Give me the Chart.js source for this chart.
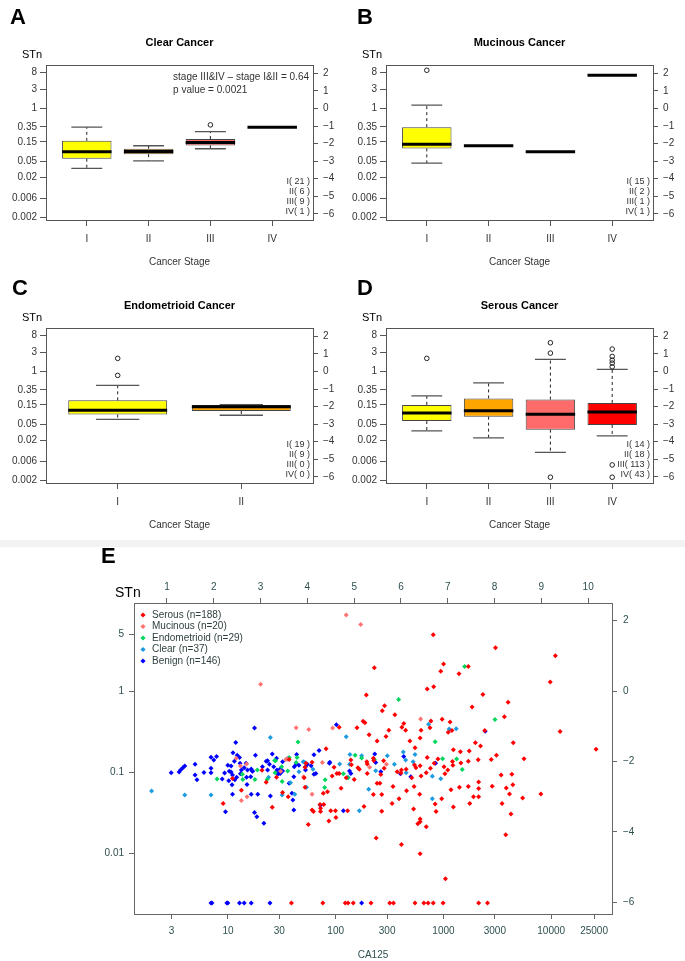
<!DOCTYPE html>
<html>
<head>
<meta charset="utf-8">
<script src="https://cdn.jsdelivr.net/npm/chart.js@4.4.1/dist/chart.umd.min.js"></script>
<style>
body { margin: 0; background: #fff; width: 685px; height: 961px; position: relative; overflow: hidden; }
.pane { position: absolute; }
#band { position: absolute; left: 0; top: 540px; width: 685px; height: 7px; background: #f2f2f2; }
</style>
</head>
<body>
<div class="pane" style="left:0;top:0"><canvas id="pA" width="340" height="270"></canvas></div>
<div class="pane" style="left:340px;top:0"><canvas id="pB" width="345" height="270"></canvas></div>
<div class="pane" style="left:0;top:263px"><canvas id="pC" width="340" height="270"></canvas></div>
<div class="pane" style="left:340px;top:263px"><canvas id="pD" width="345" height="270"></canvas></div>
<div id="band"></div>
<div class="pane" style="left:0;top:545px"><canvas id="pE" width="685" height="416"></canvas></div>
<script>
var FONT = '"Liberation Sans", Arial, Helvetica, sans-serif';

var stageNames = ['I', 'II', 'III', 'IV'];
var stageFills = ['#FFFF00', '#FFA500', '#FF6A6A', '#FF0000'];
var stnTickValues = [0.002, 0.006, 0.02, 0.05, 0.15, 0.35, 1, 3, 8];
var lnTickValues = [-6, -5, -4, -3, -2, -1, 0, 1, 2];

// box statistics in ln(STn), as read on the right hand axes
var clearLow  = [-3.41, -2.98, -2.29, -1.06];
var clearQ1   = [-2.86, -2.60, -2.10, -1.06];
var clearMed  = [-2.46, -2.45, -1.93, -1.06];
var clearQ3   = [-1.84, -2.29, -1.74, -1.06];
var clearHigh = [-1.06, -2.12, -1.31, -1.06];
var clearOut  = [[], [], [-0.93], []];
var clearN    = [21, 6, 9, 1];

var mucLow  = [-3.11, -2.12, -2.46, 1.90];
var mucQ1   = [-2.27, -2.12, -2.46, 1.90];
var mucMed  = [-2.03, -2.12, -2.46, 1.90];
var mucQ3   = [-1.06, -2.12, -2.46, 1.90];
var mucHigh = [0.19, -2.12, -2.46, 1.90];
var mucOut  = [[2.18], [], [], []];
var mucN    = [15, 2, 1, 1];

var endoLow  = [-2.72, -2.49];
var endoQ1   = [-2.45, -2.25];
var endoMed  = [-2.21, -2.00];
var endoQ3   = [-1.64, -1.90];
var endoHigh = [-0.79, -1.88];
var endoOut  = [[0.75, -0.22], []];
var endoN    = [19, 9, 0, 0];

var serLow  = [-3.38, -3.78, -4.60, -3.67];
var serQ1   = [-2.82, -2.57, -3.31, -3.04];
var serMed  = [-2.36, -2.23, -2.44, -2.30];
var serQ3   = [-1.90, -1.53, -1.60, -1.79];
var serHigh = [-1.39, -0.65, 0.69, 0.12];
var serOut  = [[0.75], [], [1.64, 1.05, -6.02], [1.28, 0.86, 0.65, 0.48, 0.27, -5.32, -6.02]];
var serN    = [14, 18, 113, 43];

// scatter: [ln CA125 (top axis), ln STn (right axis)]
var serousPts = [
  [5.43,0.66],[5.26,-0.11],[5.65,-0.42],[5.60,-0.56],[5.87,-0.67],[6.02,-1.03],[5.19,-0.86],[5.23,-0.90],
  [5.74,-1.11],[5.06,-1.04],[4.68,-1.03],[5.32,-1.24],[5.68,-1.29],[5.49,-1.42],[4.40,-1.64],
  [6.69,1.60],[8.02,1.23],[9.30,1.00],[6.91,0.77],[7.44,0.70],[6.85,0.56],[7.24,0.49],[9.19,0.26],
  [6.70,0.12],[6.56,0.06],[7.75,-0.10],[8.29,-0.32],[7.52,-0.45],[8.21,-0.73],[6.88,-0.80],[7.05,-0.88],
  [6.64,-0.85],[6.06,-0.92],[6.10,-1.11],[6.62,-1.04],[6.43,-1.11],[7.01,-1.17],[7.09,-1.12],[7.79,-1.12],
  [9.40,-1.15],[6.41,-1.33],[6.19,-1.42],[7.59,-1.47],[7.70,-1.56],[8.40,-1.47],[6.30,-1.61],[10.17,-1.65],
  [7.12,-1.67],[7.27,-1.72],[7.46,-1.70],[6.56,-1.89],[8.04,-1.82],[8.63,-1.92],[6.79,-1.93],[7.65,-1.95],
  [7.93,-1.94],[7.10,-2.00],[7.28,-2.04],[7.44,-1.99],[6.92,-2.15],[7.00,-2.24],[6.63,-2.19],[6.54,-2.32],
  [6.41,-2.12],[6.32,-2.18],[6.29,-2.10],[6.11,-2.22],[6.01,-2.24],[5.92,-2.29],[5.63,-1.98],[5.41,-1.91],
  [5.08,-2.18],[5.11,-2.22],[5.27,-2.01],[5.42,-1.97],[4.10,-2.02],[3.97,-2.05],[3.95,-2.16],[3.61,-1.94],
  [5.64,-2.19],[5.57,-2.37],[6.00,-2.33],[6.23,-2.46],[6.43,-2.41],[6.71,-2.05],[6.94,-2.35],[7.11,-2.11],
  [5.49,-2.62],[5.55,-2.62],[5.83,-2.71],[5.41,-2.94],[5.59,-2.94],[6.12,-2.83],[6.28,-2.71],[6.40,-2.93],
  [5.96,-3.06],[5.81,-3.19],[5.59,-3.41],[6.73,-3.21],[6.75,-3.42],[6.87,-3.06],[6.27,-3.35],[7.07,-2.80],
  [7.25,-2.73],[7.44,-2.71],[7.66,-2.58],[7.66,-2.77],[7.66,-3.00],[7.55,-3.00],[7.47,-3.19],[7.12,-3.29],
  [7.95,-2.70],[8.14,-2.38],[8.37,-2.36],[8.25,-2.75],[8.39,-2.66],[8.32,-2.92],[8.60,-3.04],[8.99,-2.92],
  [8.16,-3.19],[8.35,-3.49],[6.41,-3.63],[6.41,-3.71],[6.36,-3.77],[6.54,-3.85],[8.24,-4.08],[5.47,-4.17],
  [6.01,-4.36],[6.41,-4.62],[6.95,-5.33],
  [3.66,-6.02],[4.33,-6.02],[4.81,-6.02],[4.87,-6.02],[4.98,-6.02],[5.36,-6.02],[5.76,-6.02],[5.84,-6.02],
  [6.30,-6.02],[6.49,-6.02],[6.58,-6.02],[6.69,-6.02],[6.90,-6.02],[7.66,-6.02],[7.85,-6.02],
  [2.20,-3.19],[2.40,-2.48],[2.59,-2.82],[3.03,-2.25],[3.12,-2.59],[3.25,-3.30],[3.34,-2.45],[3.47,-2.88],
  [3.59,-3.00],[3.93,-2.46],[3.95,-2.73],[4.02,-3.79],[4.10,-3.38],[4.13,-3.42],[4.27,-3.22],[4.28,-3.33],
  [4.28,-3.42],[4.35,-3.22],[4.34,-2.90],[4.43,-2.86],[4.46,-3.69],[4.50,-3.40],[4.53,-2.41],[4.57,-2.16],
  [4.60,-3.40],[4.61,-3.59],[4.72,-2.76],[4.63,-2.34],[4.68,-2.34],[4.86,-3.40],[4.83,-2.46],[4.93,-1.96],
  [4.94,-2.09],[5.00,-2.51],[5.21,-3.28],[5.28,-2.34],[5.28,-2.07]
];
var mucinousPts = [
  [4.83,2.16],[5.14,1.89],[3.00,0.19],[4.54,-1.05],[3.76,-1.04],[4.03,-1.09],[6.42,-0.79],[2.48,-1.91],
  [2.57,-2.13],[2.70,-2.07],[3.57,-1.93],[4.32,-2.03],[5.33,-2.16],[5.69,-2.08],[2.59,-3.11],[2.71,-3.00],
  [3.54,-1.94],[3.92,-2.43],[4.10,-2.93],[3.43,-2.28]
];
var endoPts = [
  [5.95,-0.24],[7.36,0.70],[8.01,-0.81],[6.73,-1.44],[6.89,-1.92],[7.19,-1.93],[7.31,-2.23],[3.80,-1.45],
  [5.02,-1.82],[5.16,-1.90],[3.30,-1.97],[3.78,-1.89],[5.43,-1.94],[2.07,-2.50],[2.61,-2.36],[2.62,-2.51],
  [2.88,-2.51],[3.14,-2.51],[3.32,-1.98],[3.31,-2.32],[3.45,-2.15],[3.46,-2.57],[3.58,-2.27],[3.61,-1.89],
  [3.76,-2.03],[4.37,-2.74],[4.77,-2.35],[4.87,-2.46],[2.93,-2.24],[4.38,-2.52]
];
var clearPts = [
  [3.21,-1.32],[4.83,-1.30],[4.91,-1.80],[5.16,-1.84],[5.71,-1.84],[6.05,-1.73],[6.30,-1.80],[6.59,-0.94],
  [7.03,-1.08],[7.18,-1.07],[3.91,-2.01],[4.69,-2.07],[6.26,-2.01],[5.86,-2.08],[6.10,-1.96],[5.46,-2.26],
  [6.11,-2.32],[6.67,-2.42],[6.85,-2.49],[6.67,-3.06],[0.67,-2.84],[1.38,-2.95],[1.94,-2.95],[3.46,-2.95],
  [3.64,-2.60],[3.73,-2.93],[3.82,-2.29],[3.94,-2.02],[3.98,-2.73],[4.12,-2.22],[4.87,-2.45],[4.90,-2.08],
  [5.11,-3.40],[5.31,-2.79],[3.17,-2.45]
];
var benignPts = [
  [2.87,-1.05],[4.62,-0.96],[2.47,-1.46],[4.25,-1.69],[4.14,-1.81],[2.41,-1.75],[2.50,-1.82],[2.55,-1.89],
  [1.94,-1.88],[2.06,-1.86],[2.89,-1.82],[3.25,-1.79],[3.77,-1.80],[5.44,-1.79],[3.15,-1.98],[3.19,-2.08],
  [3.34,-1.91],[3.47,-2.01],[3.57,-1.92],[4.48,-2.02],[2.00,-1.96],[1.60,-2.08],[5.46,-2.03],[5.57,-2.29],
  [6.06,-1.86],[5.99,-2.35],[6.21,-2.43],[6.74,-2.05],[7.80,-1.14],
  [1.09,-2.32],[1.26,-2.30],[1.29,-2.24],[1.34,-2.18],[1.38,-2.13],[1.60,-2.38],[1.64,-2.52],[1.79,-2.31],
  [1.94,-2.19],[1.94,-2.32],[2.18,-2.50],[2.23,-2.33],[2.30,-2.11],[2.33,-2.28],[2.25,-3.43],[2.32,-2.55],
  [2.37,-2.30],[2.40,-2.38],[2.37,-2.13],[2.44,-1.99],[2.45,-2.52],[2.40,-2.93],[2.56,-2.05],[2.59,-2.24],
  [2.65,-2.18],[2.69,-2.05],[2.71,-2.65],[2.72,-2.24],[2.80,-2.21],[2.82,-2.27],[2.87,-3.45],[2.92,-3.57],
  [2.80,-2.93],[2.94,-2.93],[3.07,-3.75],[3.04,-2.15],[3.12,-1.99],[3.15,-2.24],[3.28,-2.15],[3.21,-2.98],
  [3.35,-2.24],[3.39,-2.34],[3.42,-2.34],[3.47,-2.27],[3.61,-2.62],[3.67,-2.90],[3.71,-2.43],[3.72,-2.15],
  [3.76,-2.08],[3.82,-2.11],[3.71,-3.38],[3.96,-2.15],[3.96,-2.24],[4.00,-2.08],[4.08,-2.12],[4.14,-2.36],
  [4.18,-2.34],[4.28,-3.24],[4.47,-2.05],[4.77,-3.40],[2.39,-2.66],[2.49,-2.45],[2.57,-2.35],[2.70,-2.45],
  [2.79,-2.43],[2.83,-2.28],[3.42,-2.21],[3.37,-2.35],[3.69,-3.09],[4.90,-2.27],[4.93,-2.34],
  [1.94,-6.02],[1.96,-6.02],[2.28,-6.02],[2.30,-6.02],[2.55,-6.02],[2.65,-6.02],[2.80,-6.02],[3.20,-6.02],
  [5.16,-6.02]
];
var groupNames = ['Serous (n=188)', 'Mucinous (n=20)', 'Endometrioid (n=29)', 'Clear (n=37)', 'Benign (n=146)'];
var groupColors = ['#FF0000', '#FF7373', '#00D65B', '#1C9BE0', '#0000FF'];
var caTickValues = [3, 10, 30, 100, 300, 1000, 3000, 10000, 25000];
var lnCaTicks = [1, 2, 3, 4, 5, 6, 7, 8, 9, 10];
var stnTicksE = [0.01, 0.1, 1, 5];
var lnStnTicksE = [-6, -4, -2, 0, 2];

Chart.defaults.font.family = FONT;
Chart.defaults.font.size = 10;
Chart.defaults.color = '#333';
Chart.defaults.animation = false;
Chart.defaults.plugins.legend.display = false;
Chart.defaults.plugins.tooltip.enabled = false;

function minusFmt(v) {
  return v < 0 ? '\u2212' + Math.abs(v) : String(v);
}

function boxChart(id, st, opt) {
  var k = st.med.length;
  var boxes = [], whisk = [], caps = [], meds = [], outs = [];
  for (var i = 0; i < k; i++) {
    var x = i + 1;
    boxes.push({x: x, y: [st.q1[i], st.q3[i]]});
    meds.push({x: x - 0.4, y: st.med[i]}, {x: x + 0.4, y: st.med[i]}, {x: x, y: null});
    if (st.high[i] > st.q3[i]) {
      whisk.push({x: x, y: st.q3[i]}, {x: x, y: st.high[i]}, {x: x, y: null});
      caps.push({x: x - opt.cap, y: st.high[i]}, {x: x + opt.cap, y: st.high[i]}, {x: x, y: null});
    }
    if (st.low[i] < st.q1[i]) {
      whisk.push({x: x, y: st.q1[i]}, {x: x, y: st.low[i]}, {x: x, y: null});
      caps.push({x: x - opt.cap, y: st.low[i]}, {x: x + opt.cap, y: st.low[i]}, {x: x, y: null});
    }
    st.out[i].forEach(function (v) { outs.push({x: x, y: v}); });
  }
  var names = stageNames.slice(0, k);

  var decor = {
    id: 'decor',
    afterDraw: function (chart) {
      var ctx = chart.ctx, a = chart.chartArea;
      ctx.save();
      ctx.strokeStyle = '#555';
      ctx.lineWidth = 1;
      ctx.strokeRect(a.left + 0.5, a.top + 0.5, a.right - a.left, a.bottom - a.top);
      ctx.fillStyle = '#000';
      ctx.textBaseline = 'alphabetic';
      ctx.font = 'bold 22px ' + FONT;
      ctx.textAlign = 'left';
      ctx.fillText(opt.letter, opt.letterX, opt.letterY);
      ctx.font = 'bold 11px ' + FONT;
      ctx.textAlign = 'center';
      ctx.fillText(opt.title, (a.left + a.right) / 2, 46);
      ctx.font = '11px ' + FONT;
      ctx.textAlign = 'left';
      ctx.fillText('STn', 22, 58);
      ctx.fillStyle = '#333';
      ctx.font = '9px ' + FONT;
      ctx.textAlign = 'right';
      stageNames.forEach(function (s, j) {
        ctx.fillText(s + '( ' + st.n[j] + ' )', a.right - 3, a.bottom - 36 + j * 10);
      });
      if (opt.notes) {
        ctx.font = '10px ' + FONT;
        ctx.textAlign = 'left';
        var w = ctx.measureText(opt.notes[0]).width;
        var nx = a.right - 4 - w;
        ctx.fillText(opt.notes[0], nx, 80);
        ctx.fillText(opt.notes[1], nx, 93);
      }
      ctx.restore();
    }
  };

  var yMin = -6.35, yMax = 2.48;
  new Chart(document.getElementById(id), {
    type: 'bar',
    data: {
      datasets: [
        {type: 'bar', data: boxes, backgroundColor: stageFills.slice(0, k), borderColor: '#444',
         borderWidth: 1, borderSkipped: false, barPercentage: 0.8, categoryPercentage: 1, order: 5},
        {type: 'line', data: whisk, borderColor: '#222', borderWidth: 1, borderDash: [3, 3],
         pointRadius: 0, fill: false, spanGaps: false, order: 4},
        {type: 'line', data: caps, borderColor: '#555', borderWidth: 1.3, pointRadius: 0,
         fill: false, spanGaps: false, order: 3},
        {type: 'line', data: meds, borderColor: '#000', borderWidth: 3, borderCapStyle: 'butt',
         pointRadius: 0, fill: false, spanGaps: false, order: 2},
        {type: 'scatter', data: outs, pointStyle: 'circle', pointRadius: 2.3, borderWidth: 1,
         borderColor: '#222', backgroundColor: 'rgba(255,255,255,0)', order: 1}
      ]
    },
    options: {
      responsive: false,
      devicePixelRatio: 1,
      layout: {padding: {top: 65, left: 0, right: 0, bottom: 0}},
      scales: {
        x: {
          type: 'linear', position: 'bottom', offset: false, bounds: 'data',
          min: 0.5 - 0.04 * k, max: k + 0.5 + 0.04 * k,
          grid: {drawOnChartArea: false, tickLength: 6, color: '#555', offset: false},
          border: {display: false},
          ticks: {autoSkip: false, maxRotation: 0, padding: 7, color: '#333',
                  callback: function (v, i) { return names[i]; }},
          afterBuildTicks: function (s) { s.ticks = names.map(function (n, i) { return {value: i + 1}; }); },
          afterFit: function (s) { s.height = 50; },
          title: {display: true, text: 'Cancer Stage', color: '#333', font: {size: 10},
                  padding: {top: 0, bottom: 2}}
        },
        y: {
          type: 'linear', position: 'left', min: yMin, max: yMax, bounds: 'data',
          grid: {drawOnChartArea: false, tickLength: 6, color: '#555'},
          border: {display: false},
          ticks: {autoSkip: false, padding: 3, color: '#333',
                  callback: function (v, i) { return String(stnTickValues[i]); }},
          afterBuildTicks: function (s) { s.ticks = stnTickValues.map(function (v) { return {value: Math.log(v)}; }); },
          afterFit: function (s) { s.width = 46; }
        },
        y2: {
          type: 'linear', position: 'right', min: yMin, max: yMax, bounds: 'data',
          grid: {drawOnChartArea: false, tickLength: 5, color: '#555'},
          border: {display: false},
          ticks: {autoSkip: false, padding: 5, color: '#333',
                  callback: function (v) { return minusFmt(v); }},
          afterBuildTicks: function (s) { s.ticks = lnTickValues.map(function (v) { return {value: v}; }); },
          afterFit: function (s) { s.width = opt.rightW; }
        }
      }
    },
    plugins: [decor]
  });
}

boxChart('pA', {low: clearLow, q1: clearQ1, med: clearMed, q3: clearQ3, high: clearHigh, out: clearOut, n: clearN},
  {letter: 'A', letterX: 10, letterY: 24, title: 'Clear Cancer', rightW: 27, cap: 0.25,
   notes: ['stage III&IV \u2013 stage I&II = 0.64', 'p value = 0.0021']});
boxChart('pB', {low: mucLow, q1: mucQ1, med: mucMed, q3: mucQ3, high: mucHigh, out: mucOut, n: mucN},
  {letter: 'B', letterX: 17, letterY: 24, title: 'Mucinous Cancer', rightW: 32, cap: 0.25});
boxChart('pC', {low: endoLow, q1: endoQ1, med: endoMed, q3: endoQ3, high: endoHigh, out: endoOut, n: endoN},
  {letter: 'C', letterX: 12, letterY: 32, title: 'Endometrioid Cancer', rightW: 27, cap: 0.175});
boxChart('pD', {low: serLow, q1: serQ1, med: serMed, q3: serQ3, high: serHigh, out: serOut, n: serN},
  {letter: 'D', letterX: 17, letterY: 32, title: 'Serous Cancer', rightW: 32, cap: 0.25});

// panel E: scatter of STn against CA125
var groupPts = [serousPts, mucinousPts, endoPts, clearPts, benignPts];
var eDecor = {
  id: 'eDecor',
  afterDraw: function (chart) {
    var ctx = chart.ctx, a = chart.chartArea;
    ctx.save();
    ctx.strokeStyle = '#666';
    ctx.lineWidth = 1;
    ctx.strokeRect(a.left + 0.5, a.top + 0.5, a.right - a.left, a.bottom - a.top);
    ctx.fillStyle = '#000';
    ctx.font = 'bold 22px ' + FONT;
    ctx.fillText('E', 101, 18);
    ctx.font = '14px ' + FONT;
    ctx.fillText('STn', 115, 52);
    ctx.font = '10px ' + FONT;
    ctx.textBaseline = 'middle';
    groupNames.forEach(function (g, i) {
      var y = a.top + 12 + i * 11.5;
      ctx.fillStyle = groupColors[i];
      ctx.beginPath();
      ctx.moveTo(a.left + 9, y - 2.6);
      ctx.lineTo(a.left + 11.6, y);
      ctx.lineTo(a.left + 9, y + 2.6);
      ctx.lineTo(a.left + 6.4, y);
      ctx.closePath();
      ctx.fill();
      ctx.fillStyle = '#2f3f3f';
      ctx.fillText(g, a.left + 18, y);
    });
    ctx.restore();
  }
};

var xMinE = 0.295, xMaxE = 10.51, yMinE = -6.33, yMaxE = 2.50;
var tickGrid = {drawOnChartArea: false, tickLength: 5, color: '#666'};
new Chart(document.getElementById('pE'), {
  type: 'scatter',
  data: {
    datasets: groupPts.map(function (pts, i) {
      return {
        label: groupNames[i],
        data: pts.map(function (p) { return {x: p[0], y: p[1]}; }),
        pointStyle: 'rectRot',
        pointRadius: 2.5,
        borderWidth: 0,
        backgroundColor: groupColors[i]
      };
    })
  },
  options: {
    responsive: false,
    devicePixelRatio: 1,
    layout: {padding: {top: 36, left: 0, right: 0, bottom: 0}},
    scales: {
      x: {
        type: 'linear', position: 'bottom', min: xMinE, max: xMaxE, bounds: 'data',
        grid: tickGrid, border: {display: false},
        ticks: {autoSkip: false, maxRotation: 0, padding: 6, color: '#2f4f4f',
                callback: function (v, i) { return String(caTickValues[i]); }},
        afterBuildTicks: function (s) { s.ticks = caTickValues.map(function (v) { return {value: Math.log(v)}; }); },
        afterFit: function (s) { s.height = 47; },
        title: {display: true, text: 'CA125', color: '#2f4f4f', font: {size: 10}, padding: {top: 0, bottom: 0}}
      },
      x2: {
        type: 'linear', position: 'top', min: xMinE, max: xMaxE, bounds: 'data',
        grid: tickGrid, border: {display: false},
        ticks: {autoSkip: false, maxRotation: 0, padding: 5, color: '#2f4f4f',
                callback: function (v) { return String(v); }},
        afterBuildTicks: function (s) { s.ticks = lnCaTicks.map(function (v) { return {value: v}; }); },
        afterFit: function (s) { s.height = 22; }
      },
      y: {
        type: 'linear', position: 'left', min: yMinE, max: yMaxE, bounds: 'data',
        grid: tickGrid, border: {display: false},
        ticks: {autoSkip: false, padding: 5, color: '#2f4f4f',
                callback: function (v, i) { return String(stnTicksE[i]); }},
        afterBuildTicks: function (s) { s.ticks = stnTicksE.map(function (v) { return {value: Math.log(v)}; }); },
        afterFit: function (s) { s.width = 134; }
      },
      y2: {
        type: 'linear', position: 'right', min: yMinE, max: yMaxE, bounds: 'data',
        grid: tickGrid, border: {display: false},
        ticks: {autoSkip: false, padding: 6, color: '#2f4f4f',
                callback: function (v) { return minusFmt(v); }},
        afterBuildTicks: function (s) { s.ticks = lnStnTicksE.map(function (v) { return {value: v}; }); },
        afterFit: function (s) { s.width = 73; }
      }
    }
  },
  plugins: [eDecor]
});
</script>
</body>
</html>
